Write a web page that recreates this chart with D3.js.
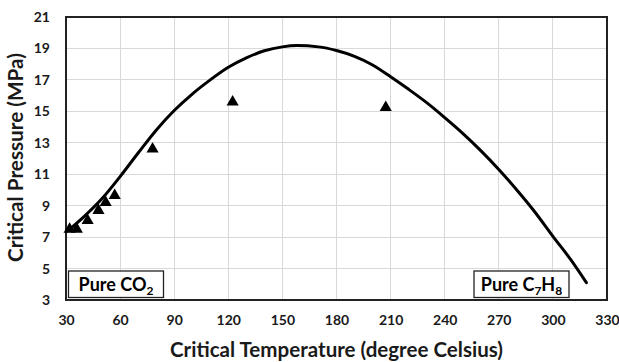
<!DOCTYPE html>
<meta charset="utf-8" />
<style>
  body { margin: 0; background: #fff; font-family: Lato, "Open Sans", sans-serif; }
  .grid line { stroke: #d9d9d9; stroke-width: 1; shape-rendering: crispEdges; }
  .axis text { font-size: 14px; font-weight: bold; fill: #1a1a1a; font-family: Lato, sans-serif; }
  .title { font-size: 17.5px; font-weight: bold; fill: #1a1a1a; }
  .note { font-size: 18px; font-weight: bold; fill: #000; }
</style>
<body>
<script src="https://d3js.org/d3.v7.min.js"></script>
<script>
// phase envelope (solid line)
var curveT = [30.8, 40, 50, 60, 70, 80, 90, 100, 110, 120, 130, 140, 150, 158, 170, 180, 190, 200, 210, 220, 230, 240, 250, 260, 270, 280, 290, 300, 310, 318.6];
var curveP = [7.38, 8.3, 9.45, 10.85, 12.35, 13.8, 15.05, 16.1, 17.0, 17.8, 18.4, 18.85, 19.1, 19.18, 19.1, 18.87, 18.5, 17.95, 17.2, 16.4, 15.55, 14.6, 13.6, 12.5, 11.3, 10.0, 8.6, 7.05, 5.55, 4.1];
// measured critical points (triangles)
var pointT = [32, 36, 42, 48, 52, 57, 78, 122.4, 207.3];
var pointP = [7.5, 7.5, 8.05, 8.7, 9.2, 9.65, 12.6, 15.6, 15.25];
var xTicks = [30, 60, 90, 120, 150, 180, 210, 240, 270, 300, 330];
var yTicks = [3, 5, 7, 9, 11, 13, 15, 17, 19, 21];

var margin = { top: 17, right: 12, bottom: 62, left: 66 },
  width = 619 - margin.left - margin.right,
  height = 362 - margin.top - margin.bottom;

var svg = d3.select("body").append("svg")
  .attr("width", 619).attr("height", 362)
  .append("g")
  .attr("transform", "translate(" + margin.left + "," + margin.top + ")");

var x = d3.scaleLinear().domain([30, 330]).range([0, width]);
var y = d3.scaleLinear().domain([3, 21]).range([height, 0]);

// gridlines
var grid = svg.append("g").attr("class", "grid");
grid.selectAll(".gx").data(xTicks).enter().append("line")
  .attr("x1", d => x(d)).attr("x2", d => x(d))
  .attr("y1", 0).attr("y2", height);
grid.selectAll(".gy").data(yTicks).enter().append("line")
  .attr("x1", 0).attr("x2", width)
  .attr("y1", d => y(d)).attr("y2", d => y(d));

// plot frame
svg.append("rect")
  .attr("width", width).attr("height", height)
  .attr("fill", "none").attr("stroke", "#222").attr("stroke-width", 1.2)
  .attr("shape-rendering", "crispEdges");

// axes (labels only)
svg.append("g").attr("class", "axis")
  .attr("transform", "translate(0," + height + ")")
  .call(d3.axisBottom(x).tickValues(xTicks).tickSize(0).tickPadding(15));
svg.append("g").attr("class", "axis")
  .call(d3.axisLeft(y).tickValues(yTicks).tickSize(0).tickPadding(16));
svg.selectAll(".axis .domain").remove();

// curve
var line = d3.line()
  .x(function (d, i) { return x(curveT[i]); })
  .y(function (d, i) { return y(curveP[i]); })
  .curve(d3.curveMonotoneX);
svg.append("path")
  .attr("d", line(curveT))
  .attr("fill", "none").attr("stroke", "#000").attr("stroke-width", 3)
  .attr("stroke-linejoin", "round").attr("stroke-linecap", "round");

// triangles
svg.selectAll(".pt").data(pointT).enter().append("path")
  .attr("d", d3.symbol().type(d3.symbolTriangle).size(64))
  .attr("transform", function (d, i) { return "translate(" + x(d) + "," + y(pointP[i]) + ")"; })
  .attr("fill", "#000");

// annotation boxes; parts are [text, isSubscript]
function note(x0, labelParts) {
  var g = svg.append("g").attr("transform", "translate(" + x0 + "," + (height - 29) + ")");
  g.append("rect")
    .attr("x", 0).attr("y", 0)
    .attr("width", 95).attr("height", 26.5)
    .attr("fill", "#fff").attr("stroke", "#222").attr("stroke-width", 1.3);
  var t = g.append("text").attr("class", "note")
    .attr("x", 47.5).attr("y", 19.5).attr("text-anchor", "middle");
  var low = false;
  labelParts.forEach(function (p) {
    var s = t.append("tspan").text(p[0]);
    if (p[1]) s.attr("font-size", "12px");
    if (p[1] !== low) s.attr("dy", p[1] ? 4 : -4);
    low = p[1];
  });
}
note(2.5, [["Pure CO", false], ["2", true]]);
note(408, [["Pure C", false], ["7", true], ["H", false], ["8", true]]);

// axis titles, sized to the reference widths
function fit(sel, target) {
  var len = sel.node().getComputedTextLength();
  sel.style("font-size", (17.5 * target / len).toFixed(2) + "px");
}
var xt = svg.append("text").attr("class", "title")
  .attr("x", x(180)).attr("y", height + 57)
  .attr("text-anchor", "middle")
  .text("Critical Temperature (degree Celsius)");
fit(xt, 333);
var yt = svg.append("text").attr("class", "title")
  .attr("transform", "translate(" + (-43) + "," + (y(12) - 1) + ") rotate(-90)")
  .attr("text-anchor", "middle")
  .text("Critical Pressure (MPa)");
fit(yt, 209);
</script>
</body>
